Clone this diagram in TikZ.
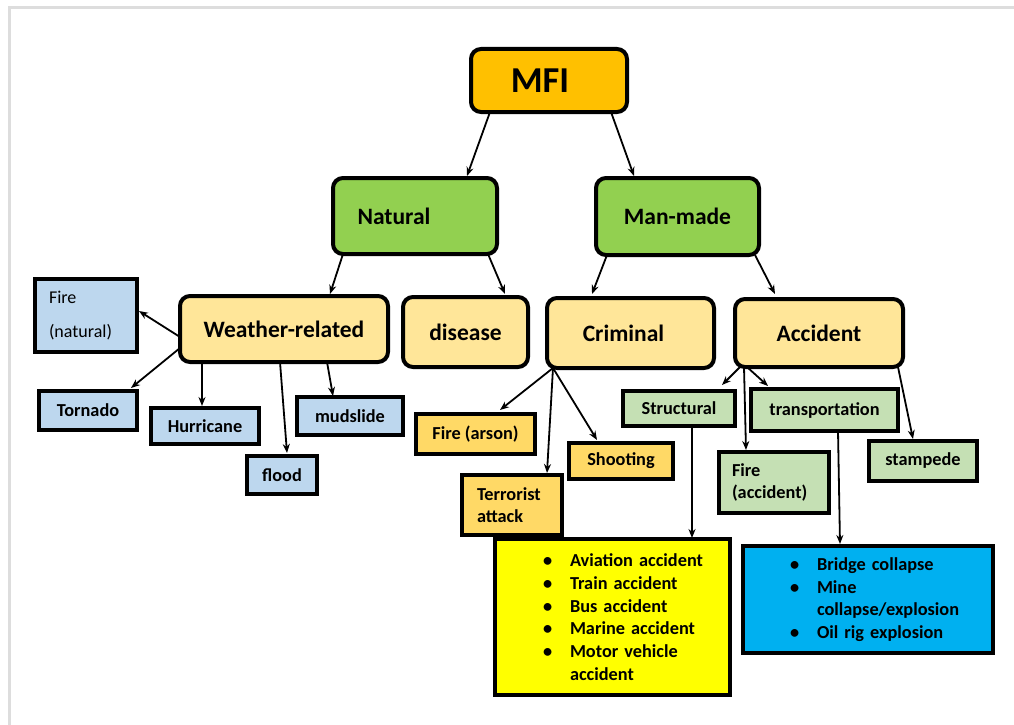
\documentclass[tikz,border=0pt]{standalone}
\usepackage{fontspec}
\setmainfont{Carlito}
\usetikzlibrary{arrows.meta,calc}
\definecolor{cMFI}{HTML}{FFC000}
\definecolor{cGreen}{HTML}{92D050}
\definecolor{cCream}{HTML}{FFE699}
\definecolor{cLBlue}{HTML}{BDD7EE}
\definecolor{cGold}{HTML}{FFD966}
\definecolor{cLGreen}{HTML}{C5E0B4}
\definecolor{cYel}{HTML}{FFFF00}
\definecolor{cCyan}{HTML}{00B0F0}
\definecolor{cFrame}{HTML}{DDDDDD}
\newcommand\yitem[1]{\hspace*{25pt}\makebox[27pt][l]{\textbullet}#1}
\newcommand\yrest[1]{\hspace*{52pt}#1}
\newcommand\bitem[1]{\hspace*{27pt}\makebox[27pt][l]{\textbullet}#1}
\newcommand\brest[1]{\hspace*{54pt}#1}
\begin{document}
\begin{tikzpicture}[x=1pt,y=-1pt,
  base/.style={draw=black, line width=3.4pt, anchor=north west, inner sep=0pt, outer sep=0pt, text=black},
  rbox/.style={base, line width=4pt, rounded corners=10pt, font=\bfseries\fontsize{23.5}{28}\selectfont},
  sbox/.style={base, font=\bfseries\fontsize{18.3}{22}\selectfont},
  arr/.style={-{Stealth[length=9pt,width=7pt]}, line width=1.8pt}]
\useasboundingbox (0,0) rectangle (1014,725);
\fill[white] (0,0) rectangle (1014,725);
\draw[cFrame, line width=3pt] (9,725) -- (9,8) -- (1014,8);

% level 1-3
\node[rbox, fill=cMFI, minimum width=156pt, minimum height=63pt, font=\bfseries\fontsize{36.5}{40}\selectfont] (mfi) at (471,49) {MFI\hspace*{18pt}};
\node[rbox, fill=cGreen, minimum width=164pt, minimum height=76pt] (nat) at (333,178) {Natural\hspace*{42pt}};
\node[rbox, fill=cGreen, minimum width=163pt, minimum height=77pt] (man) at (596,178) {Man-made};
\node[rbox, fill=cCream, minimum width=208pt, minimum height=66pt] (wea) at (180,296) {Weather-related};
\node[rbox, fill=cCream, minimum width=125pt, minimum height=70pt] (dis) at (403,297) {disease};
\node[rbox, fill=cCream, minimum width=167pt, minimum height=70pt] (cri) at (547,298) {Criminal\hspace*{14pt}};
\node[rbox, fill=cCream, minimum width=168pt, minimum height=68pt] (acc) at (735,299) {Accident};

% natural leaves
\node[base, fill=cLBlue, minimum width=102pt, minimum height=73pt, inner xsep=14pt, text width=74pt, align=left, font=\fontsize{18}{34}\selectfont] (firen) at (35,279) {Fire\\(natural)};
\node[sbox, fill=cLBlue, minimum width=98pt, minimum height=39pt] (tor) at (39,391) {Tornado};
\node[sbox, fill=cLBlue, minimum width=108pt, minimum height=36pt] (hur) at (151,408) {Hurricane};
\node[sbox, fill=cLBlue, minimum width=70pt, minimum height=38pt] (flo) at (247,456) {flood};
\node[sbox, fill=cLBlue, minimum width=106pt, minimum height=38pt] (mud) at (297,397) {mudslide};

% criminal leaves
\node[sbox, fill=cGold, minimum width=119pt, minimum height=40pt] (ars) at (416,414) {Fire (arson)};
\node[sbox, fill=cGold, minimum width=100pt, minimum height=60pt, inner xsep=15pt, text width=70pt, align=left] (ter) at (462,475) {Terrorist\\attack};
\node[sbox, fill=cGold, minimum width=104pt, minimum height=36pt] (sho) at (569,443) {Shooting};

% accident leaves
\node[sbox, fill=cLGreen, minimum width=112pt, minimum height=35pt] (str) at (623,391) {Structural};
\node[sbox, fill=cLGreen, minimum width=147pt, minimum height=42pt] (tra) at (751,389) {transportation};
\node[sbox, fill=cLGreen, minimum width=110pt, minimum height=61pt, inner xsep=13pt, text width=84pt, align=left] (fira) at (719,452) {Fire\\(accident)};
\node[sbox, fill=cLGreen, minimum width=108pt, minimum height=40pt] (sta) at (869,441) {stampede};

% lists
\node[sbox, fill=cYel, minimum width=235pt, minimum height=156pt, inner xsep=23pt, text width=189pt, align=left, font=\bfseries\fontsize{18.3}{22.7}\selectfont] (ylw) at (495,539)
 {\yitem{Aviation accident}\\\yitem{Train accident}\\\yitem{Bus accident}\\\yitem{Marine accident}\\\yitem{Motor vehicle}\\\yrest{accident}};
\node[sbox, fill=cCyan, minimum width=250pt, minimum height=107pt, inner xsep=20pt, text width=210pt, align=left, font=\bfseries\fontsize{18.3}{22.7}\selectfont] (blu) at (743,546)
 {\bitem{Bridge collapse}\\\bitem{Mine}\\\brest{collapse/explosion}\\\bitem{Oil rig explosion}};

% arrows
\draw[arr] ($(mfi.south west)+(19,0)$) -- ($(nat.north west)+(134,-2)$);
\draw[arr] ($(mfi.south west)+(140,0)$) -- ($(man.north west)+(38,-2)$);
\draw[arr] ($(nat.south west)+(10,0)$) -- ($(wea.north west)+(150,-2)$);
\draw[arr] ($(nat.south west)+(155,0)$) -- ($(dis.north west)+(102,-3)$);
\draw[arr] ($(man.south west)+(11,0)$) -- ($(cri.north west)+(45,-4)$);
\draw[arr] ($(man.south west)+(159,0)$) -- ($(acc.north west)+(40,-5)$);

\draw[arr] ($(wea.north west)+(0,41)$) -- ($(firen.north east)+(2,32)$);
\draw[arr] ($(wea.north west)+(0,52)$) -- ($(tor.north west)+(92,-3)$);
\draw[arr] ($(wea.south west)+(22,0)$) -- ($(hur.north west)+(51,-2)$);
\draw[arr] ($(wea.south west)+(100,0)$) -- ($(flo.north west)+(40,-3)$);
\draw[arr] ($(wea.south west)+(147,0)$) -- ($(mud.north west)+(36,-1)$);

\draw[arr] ($(cri.south west)+(6,0)$) -- ($(ars.north west)+(84,-4)$);
\draw[arr] ($(cri.south west)+(6,0)$) -- ($(ter.north west)+(85,-2)$);
\draw[arr] ($(cri.south west)+(6,0)$) -- ($(sho.north west)+(28,-3)$);

\draw[arr] ($(acc.south west)+(5,0)$) -- ($(str.north west)+(99,-6)$);
\draw[arr] ($(acc.south west)+(12,0)$) -- ($(tra.north west)+(17,-3)$);
\draw[arr] ($(acc.south west)+(9,0)$) -- ($(fira.north west)+(27,-2)$);
\draw[arr] ($(acc.south west)+(163,0)$) -- ($(sta.north west)+(44,-2)$);

\draw[arr] ($(str.south west)+(69,0)$) -- ($(ylw.north west)+(197,-1)$);
\draw[arr] ($(tra.south west)+(87,0)$) -- ($(blu.north west)+(97,-2)$);
\end{tikzpicture}
\end{document}
